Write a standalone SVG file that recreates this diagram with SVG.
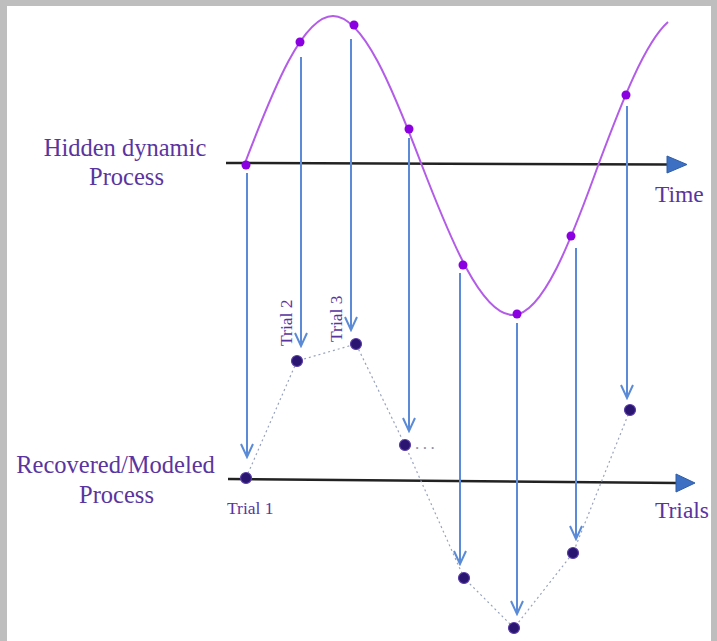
<svg xmlns="http://www.w3.org/2000/svg" width="717" height="641" viewBox="0 0 717 641">
<style>
.lbl{font-family:"Liberation Serif","Times New Roman",serif;fill:#5a35a0}
.big{font-size:24.5px}
.ax{font-size:23.5px}
.sm{font-size:17.5px}
.axis{stroke:#222;stroke-width:2.5;fill:none}
.head{fill:#3d6fc2;stroke:#2f5ea8;stroke-width:1}
.proj{stroke:#5b8bd6;stroke-width:2;fill:none;marker-end:url(#v)}
.wave{stroke:#b35ce8;stroke-width:2;fill:none}
.hd{fill:#8a00e0}
.td{fill:#2a1670;stroke:#5b3fa8;stroke-width:1.2}
.link{stroke:#9aa3bd;stroke-width:1.2;stroke-dasharray:2 3;fill:none}
</style>
<defs>
<marker id="v" markerUnits="userSpaceOnUse" markerWidth="16" markerHeight="16" viewBox="0 0 16 16" refX="14" refY="8" orient="auto">
<path d="M1,2 L14,8 L1,14" fill="none" stroke="#5b8bd6" stroke-width="2"/>
</marker>
</defs>
<rect x="0" y="0" width="717" height="641" fill="#bebebe"/>
<rect x="7" y="6" width="704" height="635" fill="#ffffff"/>

<g id="axes">
<g id="time-axis">
<line class="axis" x1="226" y1="163" x2="669" y2="164.5"/>
<polygon class="head" points="667,156 687,164.5 667,173"/>
</g>
<g id="trials-axis">
<line class="axis" x1="228" y1="479" x2="677" y2="483"/>
<polygon class="head" points="676,474 695,483 676,492"/>
</g>
</g>

<g id="hidden-process">
<path class="wave" d="M245,163 C273.7,87.7 302.8,16 333,16 C363.2,16 392.3,87.7 421,163 C451,240.9 481.4,315 513,315 C542.5,315 571,240.9 599,163 C622,101.4 645,42.4 668,22"/>
<circle class="hd" cx="246" cy="165" r="4.5"/>
<circle class="hd" cx="300" cy="42" r="4.5"/>
<circle class="hd" cx="354" cy="25" r="4.5"/>
<circle class="hd" cx="409" cy="129" r="4.5"/>
<circle class="hd" cx="463" cy="265" r="4.5"/>
<circle class="hd" cx="517" cy="314" r="4.5"/>
<circle class="hd" cx="571" cy="236" r="4.5"/>
<circle class="hd" cx="626" cy="95" r="4.5"/>
</g>

<g id="connectors">
<line class="proj" x1="247" y1="173" x2="247" y2="457"/>
<line class="proj" x1="301" y1="57" x2="301" y2="346"/>
<line class="proj" x1="351" y1="39" x2="351" y2="330"/>
<line class="proj" x1="409" y1="138" x2="409" y2="431"/>
<line class="proj" x1="460" y1="273" x2="460" y2="564"/>
<line class="proj" x1="517" y1="323" x2="517" y2="614"/>
<line class="proj" x1="576" y1="248" x2="576" y2="539"/>
<line class="proj" x1="627" y1="106" x2="627" y2="398"/>
<polyline class="link" points="246,478 297,361 356,344 405,445 464,578 514,628 573,553 630,410"/>
</g>

<g id="recovered-process">
<circle class="td" cx="246" cy="478" r="5.5"/>
<circle class="td" cx="297" cy="361" r="5.5"/>
<circle class="td" cx="356" cy="344" r="5.5"/>
<circle class="td" cx="405" cy="445" r="5.5"/>
<circle class="td" cx="464" cy="578" r="5.5"/>
<circle class="td" cx="514" cy="628" r="5.5"/>
<circle class="td" cx="573" cy="553" r="5.5"/>
<circle class="td" cx="630" cy="410" r="5.5"/>
<text x="415" y="449" font-family="Liberation Serif, serif" font-size="17" fill="#8a8fa8" letter-spacing="3.5">...</text>
</g>

<g id="labels">
<text class="lbl big" x="125" y="156" text-anchor="middle">Hidden dynamic</text>
<text class="lbl big" x="126.5" y="185" text-anchor="middle">Process</text>
<text class="lbl big" x="115.5" y="473" text-anchor="middle">Recovered/Modeled</text>
<text class="lbl big" x="116.5" y="503" text-anchor="middle">Process</text>
<text class="lbl ax" x="655" y="202">Time</text>
<text class="lbl ax" x="655" y="518">Trials</text>
<text class="lbl sm" x="227" y="514">Trial 1</text>
<text class="lbl sm" transform="translate(292,346) rotate(-90)">Trial 2</text>
<text class="lbl sm" transform="translate(342,342) rotate(-90)">Trial 3</text>
</g>
</svg>
